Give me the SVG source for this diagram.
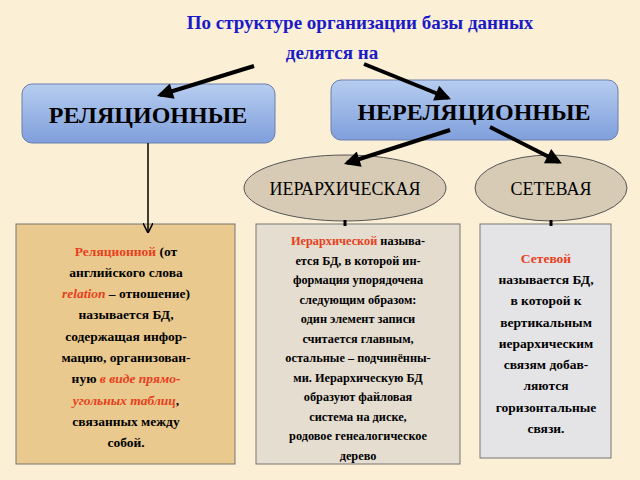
<svg xmlns="http://www.w3.org/2000/svg" width="640" height="480" viewBox="0 0 640 480" font-family="'Liberation Serif', 'DejaVu Serif', serif">
<defs>
<linearGradient id="bl" x1="0" y1="0" x2="0" y2="1"><stop offset="0" stop-color="#b7cdf0"/><stop offset="1" stop-color="#7f9fdc"/></linearGradient>
<marker id="ah" viewBox="0 0 10 10" refX="8" refY="5" markerWidth="18" markerHeight="16" orient="auto" markerUnits="userSpaceOnUse"><path d="M0,0 L10,5 L0,10 z" fill="#000"/></marker>
<marker id="oh" viewBox="0 0 10 10" refX="9" refY="5" markerWidth="10" markerHeight="10" orient="auto" markerUnits="userSpaceOnUse"><path d="M0,0 L10,5 L0,10" fill="none" stroke="#000" stroke-width="1.5"/></marker>
<style>
text{font-family:'Liberation Serif','DejaVu Serif',serif;font-weight:bold;text-anchor:middle}
.b{font-size:13.5px}
.m{font-size:12.3px}
.r{fill:#e8401c}
.hd{font-size:24px}
.el{font-size:18px;font-weight:normal}
</style>
</defs>
<rect width="640" height="480" fill="#fbefd5"/>
<text x="360" y="29" font-size="19" fill="#1a1ac8">По структуре организации базы данных</text>
<text x="332" y="59" font-size="19" fill="#1a1ac8">делятся на</text>
<g id="rel"><rect x="22" y="84" width="253" height="59" rx="10" fill="url(#bl)" stroke="#6a7fae"/><text x="148" y="123" class="hd">РЕЛЯЦИОННЫЕ</text></g>
<g id="nerel"><rect x="331" y="80" width="287" height="60" rx="10" fill="url(#bl)" stroke="#6a7fae"/><text x="474" y="120" class="hd">НЕРЕЛЯЦИОННЫЕ</text></g>
<g id="ierarch"><ellipse cx="345" cy="188" rx="101" ry="33" fill="#d8cbb6" stroke="#555"/><text x="345" y="195" class="el">ИЕРАРХИЧЕСКАЯ</text></g>
<g id="set"><ellipse cx="551" cy="188" rx="76" ry="33" fill="#d8cbb6" stroke="#555"/><text x="551" y="195" class="el">СЕТЕВАЯ</text></g>
<g id="box1"><rect x="16" y="224" width="219" height="240" fill="#e9c98e" stroke="#777"/>
<text class="b" x="126" y="256"><tspan class="r">Реляционной</tspan> (от</text>
<text class="b" x="126" y="277">английского слова</text>
<text class="b" x="126" y="298"><tspan class="r" font-style="italic">relation</tspan> – отношение)</text>
<text class="b" x="126" y="319">называется БД,</text>
<text class="b" x="126" y="341">содержащая инфор-</text>
<text class="b" x="126" y="362">мацию, организован-</text>
<text class="b" x="126" y="383">ную <tspan class="r" font-style="italic">в виде прямо-</tspan></text>
<text class="b" x="126" y="405"><tspan class="r" font-style="italic">угольных таблиц</tspan>,</text>
<text class="b" x="126" y="426">связанных между</text>
<text class="b" x="126" y="447">собой.</text>
</g>
<g id="box2"><rect x="256" y="224" width="204" height="240" fill="#e5ddd0" stroke="#777"/>
<text class="m" x="358" y="245"><tspan class="r">Иерархической</tspan> называ-</text>
<text class="m" x="358" y="265">ется БД, в которой ин-</text>
<text class="m" x="358" y="284">формация упорядочена</text>
<text class="m" x="358" y="304">следующим образом:</text>
<text class="m" x="358" y="323">один элемент записи</text>
<text class="m" x="358" y="343">считается главным,</text>
<text class="m" x="358" y="362">остальные – подчинённы-</text>
<text class="m" x="358" y="382">ми. Иерархическую БД</text>
<text class="m" x="358" y="401">образуют файловая</text>
<text class="m" x="358" y="421">система на диске,</text>
<text class="m" x="358" y="440">родовое генеалогическое</text>
<text class="m" x="358" y="460">дерево</text>
</g>
<g id="box3"><rect x="480" y="224" width="131" height="234" fill="#e4e4e6" stroke="#777"/>
<text class="b" x="546" y="263"><tspan class="r">Сетевой</tspan></text>
<text class="b" x="546" y="284">называется БД,</text>
<text class="b" x="546" y="305">в которой к</text>
<text class="b" x="546" y="327">вертикальным</text>
<text class="b" x="546" y="348">иерархическим</text>
<text class="b" x="546" y="369">связям добав-</text>
<text class="b" x="546" y="390">ляются</text>
<text class="b" x="546" y="412">горизонтальные</text>
<text class="b" x="546" y="433">связи.</text>
</g>
<g id="connectors" stroke="#000" fill="none">
<line x1="254" y1="66" x2="160" y2="95" stroke-width="4" marker-end="url(#ah)"/>
<line x1="364" y1="64" x2="448" y2="98" stroke-width="4" marker-end="url(#ah)"/>
<line x1="450" y1="130" x2="347" y2="163" stroke-width="4" marker-end="url(#ah)"/>
<line x1="490" y1="127" x2="559" y2="162" stroke-width="4" marker-end="url(#ah)"/>
<line x1="148" y1="143" x2="148" y2="232" stroke-width="1.5" marker-end="url(#oh)"/>
<line x1="345" y1="220" x2="345" y2="226" stroke-width="3"/>
<line x1="551" y1="220" x2="551" y2="226" stroke-width="3"/>
</g>
</svg>
